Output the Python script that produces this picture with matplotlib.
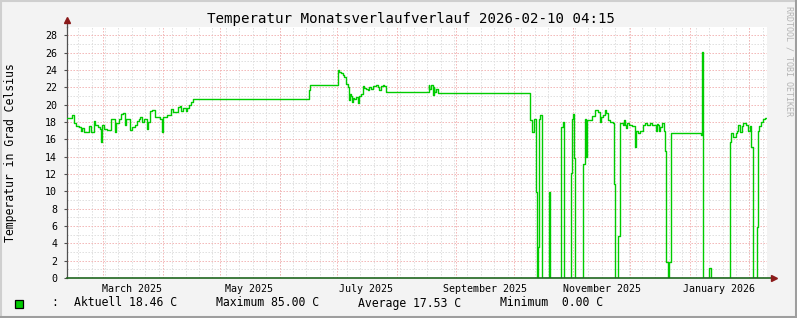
import matplotlib
matplotlib.use("Agg")
import matplotlib.pyplot as plt
import matplotlib.dates as mdates
from matplotlib.patches import Rectangle
from matplotlib.lines import Line2D
import numpy as np

start = np.datetime64("2025-02-10T04:15")
end = np.datetime64("2026-02-10T04:15")

# days after start / temperature in C
days = [0.0, 2.7, 3.5, 4.9, 6.1, 7.4, 7.9, 9.1, 10.5, 11.3,
        12.6, 14.0, 14.8, 16.0, 17.1, 17.8, 18.3, 19.5, 20.9, 22.7,
        23.5, 24.8, 25.3, 27.0, 27.9, 29.3, 30.5, 31.0, 32.8, 34.0,
        35.2, 36.3, 37.5, 38.3, 39.2, 40.4, 41.5, 42.2, 43.2, 44.5,
        45.7, 48.4, 49.7, 50.2, 51.9, 54.4, 55.4, 57.9, 58.9, 59.6,
        60.6, 61.9, 62.7, 63.6, 64.8, 65.5,
        126.1, 126.6,
        141.1, 141.9, 142.8, 143.7, 144.6, 145.5, 146.3, 147.2, 147.5, 148.1,
        148.4, 149.0, 149.8, 150.7, 151.6, 152.4, 153.3, 154.2, 155.0, 155.9,
        156.8, 157.6, 158.5, 159.4, 160.2, 161.1, 162.0, 162.9, 163.8, 164.6,
        165.5, 166.4,
        188.5, 189.0, 189.9, 190.8, 191.2, 191.6, 192.5, 193.4, 194.2,
        241.2, 242.6, 243.3, 244.4, 244.9, 245.6, 246.1, 246.4, 247.5, 247.9,
        251.1, 251.9, 257.4, 258.7, 259.2, 262.7, 263.2, 263.7, 264.2, 264.7,
        269.1, 270.0, 270.8, 271.4, 273.5, 275.2, 277.0, 277.8, 278.7, 279.6,
        280.4, 281.3, 282.2, 283.0, 284.8, 285.3, 286.0, 287.4, 288.1, 288.6,
        289.7, 290.3, 291.1, 291.7, 292.0, 292.8, 294.4, 296.2, 296.8, 297.9,
        298.7, 300.5, 301.3, 302.2, 303.9, 304.8, 306.5, 307.1, 307.4, 308.3,
        308.6, 309.2, 310.4, 311.2, 311.8, 312.5, 313.2, 314.1, 314.7,
        330.6, 330.9, 331.8, 335.0, 336.0,
        345.7, 346.2, 347.5, 348.7, 349.2, 350.1, 350.9, 351.8, 352.7, 353.9,
        354.9, 356.2, 356.7, 357.9, 359.7, 360.2, 360.9, 361.9, 362.7, 364.0,
        365.0]
temps = [18.5, 18.8, 17.9, 17.5, 17.4, 17.0, 17.3, 16.9, 16.8, 17.5,
         16.9, 18.1, 17.6, 17.4, 17.2, 15.7, 17.7, 17.2, 17.1, 18.3,
         18.4, 16.8, 17.9, 18.3, 18.9, 19.0, 17.6, 18.3, 17.1, 17.4,
         17.6, 18.1, 18.3, 18.6, 18.0, 18.3, 17.2, 18.0, 19.3, 19.4,
         18.6, 18.4, 16.9, 18.6, 18.8, 19.5, 19.2, 19.7, 19.8, 19.3,
         19.6, 19.3, 19.6, 20.0, 20.3, 20.65,
         21.7, 22.25,
         24.0, 23.8, 23.6, 23.4, 23.2, 22.4, 22.0, 20.5, 21.2, 21.0,
         20.3, 20.8, 20.6, 20.9, 20.2, 21.0, 21.2, 22.2, 21.9, 21.8,
         21.7, 22.0, 21.8, 22.2, 22.1, 22.3, 22.0, 21.7, 22.1, 22.3,
         22.1, 21.5,
         22.3, 21.8, 22.3, 21.1, 22.0, 21.5, 21.8, 21.3, 21.3,
         18.2, 16.9, 18.4, 9.9, 0.0, 3.6, 18.3, 18.8, 1.8, 0.0,
         9.9, 0.0, 17.4, 18.0, 0.0, 12.1, 18.3, 18.9, 13.8, 0.0,
         13.2, 18.4, 14.0, 18.2, 18.7, 19.4, 19.2, 18.0, 18.6, 18.8,
         19.4, 19.0, 18.2, 18.0, 17.9, 10.9, 0.0, 4.8, 17.2, 17.9,
         17.6, 18.2, 17.6, 17.3, 17.9, 17.7, 17.5, 15.1, 17.0, 16.7,
         17.0, 17.6, 17.9, 17.6, 17.9, 17.6, 17.7, 17.0, 17.8, 17.6,
         17.0, 17.4, 17.9, 17.0, 14.7, 1.9, 0.0, 1.9, 16.7,
         16.5, 26.1, 0.0, 1.1, 0.0,
         15.7, 16.7, 16.3, 16.7, 17.0, 17.6, 16.9, 17.5, 17.9, 17.6,
         17.0, 17.5, 15.1, 0.0, 5.9, 17.0, 17.5, 18.0, 18.3, 18.46,
         18.46]

aktuell = 18.46
maximum = 85.00
average = 17.53
minimum = 0.00

x = start + (np.array(days) * 86400).astype("timedelta64[s]")

W, H = 797, 318
fig = plt.figure(figsize=(W / 100, H / 100), dpi=100, facecolor="#F3F3F3")
ax = fig.add_axes([67 / W, 1 - 278 / H, 700 / W, (278 - 26.7) / H])
ax.set_facecolor("white")
mono = "DejaVu Sans Mono"

ax.set_xlim(start, end)
ax.set_ylim(0, 29)

# grid
t0, t1 = start.astype(object), end.astype(object)
dot = (0, (1.4, 1.6))
for v in range(1, 29):
    if v % 2:
        ax.axhline(v, color="#DEDEDE", lw=0.72, ls=dot, zorder=1)
for d in mdates.WeekdayLocator(byweekday=mdates.SU).tick_values(t0, t1):
    ax.axvline(d, color="#DEDEDE", lw=0.72, ls=dot, zorder=1)
for v in range(2, 29, 2):
    ax.axhline(v, color="#F2B4B4", lw=0.72, ls=dot, zorder=1.5)
for d in mdates.MonthLocator().tick_values(t0, t1):
    ax.axvline(d, color="#F2B4B4", lw=0.72, ls=dot, zorder=1.5)

ax.plot(x, temps, drawstyle="steps-post", color="#00CC00", lw=1.0, zorder=3)

ax.xaxis.set_major_locator(mdates.MonthLocator(bymonth=[1, 3, 5, 7, 9, 11], bymonthday=16))
ax.xaxis.set_major_formatter(mdates.DateFormatter("%B %Y"))
ax.set_yticks(range(0, 29, 2))
ax.tick_params(axis="x", length=0, pad=4, labelsize=7.2)
ax.tick_params(axis="y", length=2, width=0.8, color="#505050", pad=5, labelsize=7.2)
for lab in ax.get_xticklabels() + ax.get_yticklabels():
    lab.set_fontfamily(mono)

for s in ["top", "right", "bottom"]:
    ax.spines[s].set_visible(False)
ax.spines["left"].set_color("#505050")
ax.spines["left"].set_linewidth(0.9)

# axes with arrows
ax.plot([0, 1.008], [0, 0], transform=ax.transAxes, color="#1F661F", lw=1.2, clip_on=False, zorder=4)
ax.plot([0, 0], [1, 1.02], transform=ax.transAxes, color="#505050", lw=0.9, clip_on=False)
ax.plot([1.01], [0], transform=ax.transAxes, marker=">", ms=4, color="#8B1A1A", clip_on=False, zorder=5)
ax.plot([0], [1.025], transform=ax.transAxes, marker="^", ms=4, color="#8B1A1A", clip_on=False, zorder=5)

fig.text(411 / W, 1 - 19 / H, "Temperatur Monatsverlaufverlauf 2026-02-10 04:15",
         ha="center", va="center", fontsize=10.2, family=mono)
fig.text(11 / W, 1 - 152.5 / H, "Temperatur in Grad Celsius", rotation=90,
         ha="center", va="center", fontsize=8.3, family=mono)
fig.text(789 / W, 1 - 6 / H, "RRDTOOL / TOBI OETIKER", rotation=270,
         ha="center", va="top", fontsize=6, family=mono, color="#B4B4B4")

# legend row
ly = 1 - 303 / H
fig.patches.append(Rectangle((15 / W, 1 - 307.5 / H), 8 / W, 8 / H, transform=fig.transFigure,
                             facecolor="#00CC00", edgecolor="black", lw=0.9))
fig.text(55 / W, ly, ":", ha="center", va="center", fontsize=8.3, family=mono)
fig.text(74 / W, ly, f"Aktuell {aktuell:.2f} C", va="center", fontsize=8.3, family=mono)
fig.text(216 / W, ly, f"Maximum {maximum:.2f} C", va="center", fontsize=8.3, family=mono)
fig.text(358 / W, ly, f"Average {average:.2f} C", va="center", fontsize=8.3, family=mono)
fig.text(500 / W, ly, f"Minimum {minimum:5.2f} C", va="center", fontsize=8.3, family=mono)

# 3d frame
fig.add_artist(Line2D([0, 1], [1 - 0.5 / H, 1 - 0.5 / H], color="#CFCFCF", lw=1.5))
fig.add_artist(Line2D([0.5 / W, 0.5 / W], [0, 1], color="#CFCFCF", lw=1.5))
fig.add_artist(Line2D([0, 1], [1.2 / H, 1.2 / H], color="#9E9E9E", lw=2.2))
fig.add_artist(Line2D([1 - 1.2 / W, 1 - 1.2 / W], [0, 1], color="#9E9E9E", lw=2.2))

fig.savefig("out.png", dpi=100, facecolor=fig.get_facecolor())
